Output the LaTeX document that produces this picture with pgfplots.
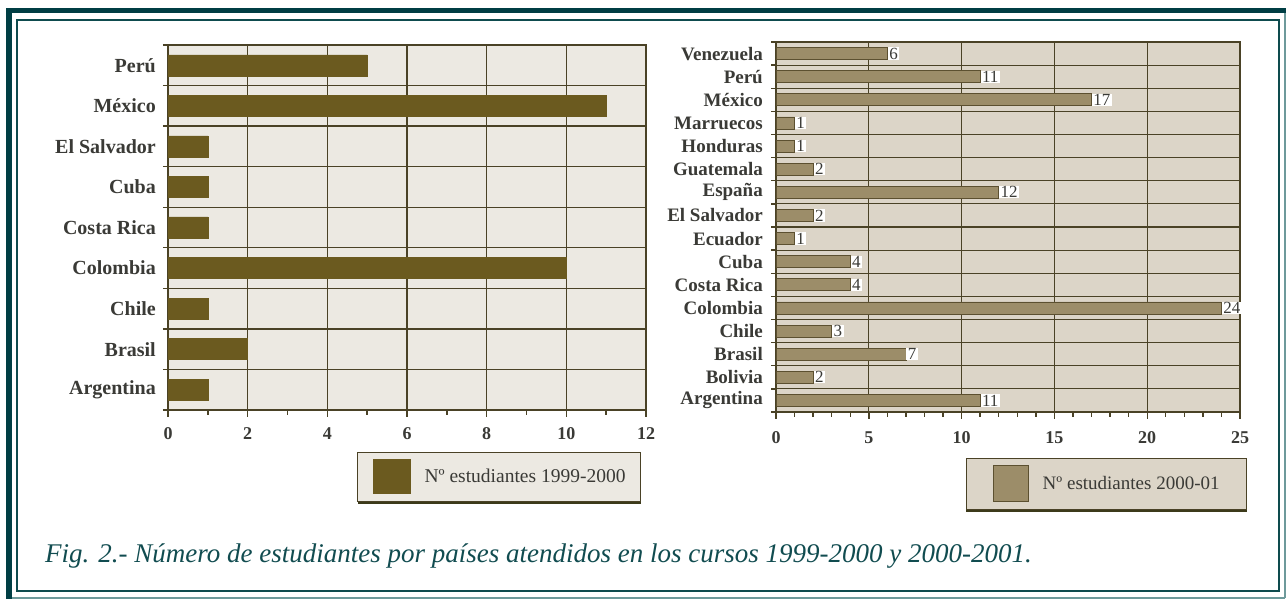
\documentclass[border=0pt]{standalone}
\usepackage{fontspec}
\setmainfont{Liberation Serif}
\usepackage{pgfplots}
\pgfplotsset{compat=1.18}
\usetikzlibrary{shadows}
\definecolor{framecol}{HTML}{003E44}
\definecolor{frameline}{HTML}{0E4B4E}
\definecolor{framelight}{HTML}{6E9A9B}
\definecolor{leftbg}{HTML}{ECE9E2}
\definecolor{rightbg}{HTML}{DCD5C8}
\definecolor{leftbar}{HTML}{6B5A1F}
\definecolor{rightbar}{HTML}{9C8D69}
\definecolor{rightbardraw}{HTML}{5C5030}
\definecolor{gridcol}{HTML}{4A4226}
\definecolor{labelcol}{HTML}{3A3A36}
\definecolor{captioncol}{HTML}{114C50}
\definecolor{shadowcol}{HTML}{3C3A1A}
\tikzset{every shadow/.style={fill=shadowcol, opacity=1}}
\pgfplotsset{
  leftleg/.style={legend image code/.code={\begin{scope}[every shadow/.style={opacity=0}]\draw[##1] (0pt,-17pt) rectangle (37pt,17pt);\end{scope}}},
  rightleg/.style={legend image code/.code={\begin{scope}[every shadow/.style={opacity=0}]\draw[##1] (0pt,-18pt) rectangle (35pt,18pt);\end{scope}}},
  common/.style={
    scale only axis,
    tick pos=left,
    axis line style={gridcol, line width=1.4pt},
    grid style={gridcol, line width=1.4pt},
    minor grid style={gridcol, line width=1.4pt},
    xmajorgrids, yminorgrids,
    xtick align=outside, ytick align=outside,
    major tick length=7pt, minor tick length=5pt,
    tick style={gridcol, line width=1.4pt},
    major y tick style={draw=none},
    /pgf/number format/assume math mode=true,
    xticklabel style={font=\fontsize{18}{18}\selectfont\bfseries, text=labelcol},
    yticklabel style={font=\fontsize{19}{19}\selectfont\bfseries, text=labelcol, inner sep=0pt},
    legend style={draw=gridcol, line width=0.8pt, inner xsep=15pt, inner ysep=7pt,
      nodes={inner sep=0pt}, column sep=14pt,
      font=\fontsize{19.5}{20}\selectfont, text=labelcol,
      drop shadow={shadow xshift=0pt, shadow yshift=-3pt}},
  }
}
\begin{document}
\begin{tikzpicture}
\useasboundingbox (0pt,0pt) rectangle (1286pt,599pt);
\fill[white] (0pt,0pt) rectangle (1286pt,599pt);
% frame
\fill[framecol] (6pt,0pt) rectangle (12pt,591pt);
\fill[framecol] (6pt,586pt) rectangle (1286pt,591pt);
\draw[framelight, line width=1.2pt] (1285pt,1pt) -- (1285pt,586pt);
\draw[framelight, line width=1.2pt] (12pt,1pt) -- (1285pt,1pt);
\draw[frameline, line width=1.5pt] (17pt,8pt) rectangle (1279pt,579pt);

\begin{axis}[common,
  at={(168pt,189pt)}, anchor=south west,
  width=478pt, height=365pt,
  axis background/.style={fill=leftbg},
  xmin=0, xmax=12, ymin=-0.5, ymax=8.5,
  xtick={0,2,...,12}, minor xtick={1,3,...,11},
  ytick={0,...,8},
  yticklabels={Argentina,Brasil,Chile,Colombia,Costa Rica,Cuba,El Salvador,México,Perú},
  minor ytick={-0.5,0.5,...,8.5},
  yticklabel style={xshift=-5pt, font=\fontsize{20}{20}\selectfont\bfseries},
  xticklabel style={yshift=-7pt},
  legend style={at={(1,0)}, anchor=north east, xshift=-5pt, yshift=-42pt, fill=leftbg},
]
\addplot[xbar, bar width=21pt, fill=leftbar, draw=leftbar, leftleg]
  coordinates {(1,0) (2,1) (1,2) (10,3) (1,4) (1,5) (1,6) (11,7) (5,8)};
\addlegendentry{Nº estudiantes 1999-2000}
\end{axis}

\begin{axis}[common,
  at={(776pt,187pt)}, anchor=south west,
  width=464pt, height=370pt,
  axis background/.style={fill=rightbg},
  xmin=0, xmax=25, ymin=-0.5, ymax=15.5,
  grid style={gridcol, line width=1.2pt},
  minor grid style={gridcol, line width=1.2pt},
  xtick={0,5,...,25}, minor xtick={0,...,25},
  ytick={0,...,15},
  yticklabels={Argentina,Bolivia,Brasil,Chile,Colombia,Costa Rica,Cuba,Ecuador,El Salvador,España,Guatemala,Honduras,Marruecos,México,Perú,Venezuela},
  minor ytick={-0.5,0.5,...,15.5},
  yticklabel style={xshift=-6pt},
  xticklabel style={yshift=-9pt},
  every node near coord/.append style={fill=white, inner xsep=1.5pt, inner ysep=0.5pt,
    font=\fontsize{17}{17}\selectfont, text=labelcol, anchor=west},
  legend style={at={(1,0)}, anchor=north east, xshift=7pt, yshift=-46pt, fill=rightbg,
    inner xsep=27pt, font=\fontsize{19}{20}\selectfont},
]
\addplot[xbar, bar width=12pt, fill=rightbar, draw=rightbardraw, line width=0.8pt,
  nodes near coords, rightleg]
  coordinates {(11,0) (2,1) (7,2) (3,3) (24,4) (4,5) (4,6) (1,7) (2,8) (12,9) (2,10) (1,11) (1,12) (17,13) (11,14) (6,15)};
\addlegendentry{Nº estudiantes 2000-01}
\end{axis}

\node[anchor=base west, font=\fontsize{27}{27}\selectfont\itshape, text=captioncol, inner sep=0pt]
  at (45pt,36pt) {Fig. 2.- Número de estudiantes por países atendidos en los cursos 1999-2000 y 2000-2001.};
\end{tikzpicture}
\end{document}
